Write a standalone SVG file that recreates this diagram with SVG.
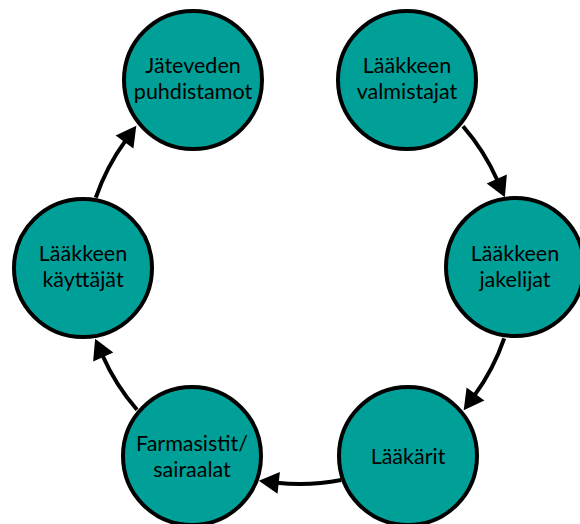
<svg xmlns="http://www.w3.org/2000/svg" width="580" height="524" viewBox="0 0 580 524">
<defs>
<style>
.node circle{fill:#00A099;stroke:#000;stroke-width:4}
.node text{font-family:Lato,"Open Sans","Liberation Sans",sans-serif;font-size:21.5px;fill:#000;text-anchor:middle}
.conn path{fill:none;stroke:#000;stroke-width:4}
</style>
<marker id="ah" markerUnits="userSpaceOnUse" markerWidth="24" markerHeight="24" viewBox="0 -12 22 24" refX="2" refY="0" orient="auto">
<path d="M0,-11 L20,0 L0,11 z" fill="#000"/>
</marker>
</defs>
<rect width="580" height="524" fill="#fff"/>
<g id="connectors" class="conn">
<path d="M463,126.3 A216 216 0 0 1 497.6,180.8" marker-end="url(#ah)"/>
<path d="M504.2,338.3 A216 216 0 0 1 474.3,395.6" marker-end="url(#ah)"/>
<path d="M341.2,480 A216 216 0 0 1 276.7,482.7" marker-end="url(#ah)"/>
<path d="M137,409.7 A216 216 0 0 1 102.4,355.2" marker-end="url(#ah)"/>
<path d="M95.8,197.7 A216 216 0 0 1 125.7,140.4" marker-end="url(#ah)"/>
</g>
<g id="n1" class="node"><circle cx="193" cy="80" r="69"/><text x="193" y="73">Jäteveden</text><text x="193" y="99">puhdistamot</text></g>
<g id="n2" class="node"><circle cx="407" cy="80" r="69"/><text x="407" y="73">Lääkkeen</text><text x="407" y="99">valmistajat</text></g>
<g id="n3" class="node"><circle cx="515" cy="267" r="69"/><text x="515" y="261">Lääkkeen</text><text x="515" y="287">jakelijat</text></g>
<g id="n4" class="node"><circle cx="83" cy="268" r="69"/><text x="83" y="261">Lääkkeen</text><text x="83" y="287">käyttäjät</text></g>
<g id="n5" class="node"><circle cx="192" cy="456" r="69"/><text x="192" y="451">Farmasistit/</text><text x="192" y="477">sairaalat</text></g>
<g id="n6" class="node"><circle cx="408" cy="456" r="69"/><text x="408" y="464">Lääkärit</text></g>
</svg>
